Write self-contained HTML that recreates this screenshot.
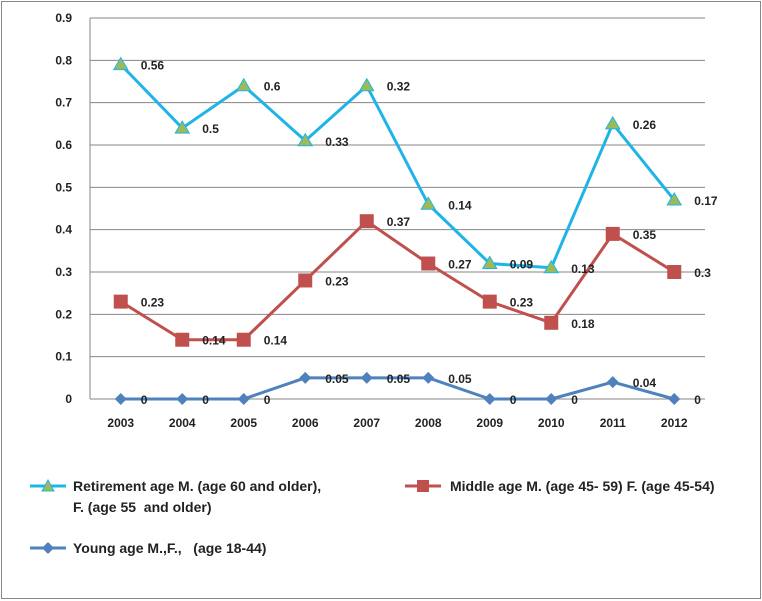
<!DOCTYPE html>
<html><head><meta charset="utf-8"><style>
body{margin:0;background:#fff;}
svg{display:block;font-family:"Liberation Sans",sans-serif;}
text{white-space:pre;}
</style></head><body>
<svg id="chart" width="762" height="601" viewBox="0 0 762 601">
<rect x="1.5" y="1.5" width="759" height="597" fill="#fff" stroke="#888" stroke-width="1"/>
<g id="grid"></g><g id="axes"></g><g id="series"></g>
<g font-size="14" font-weight="bold" fill="#222">
 <g>
  <line x1="30" y1="486" x2="66" y2="486" stroke="#1fb4e8" stroke-width="3"/>
  <polygon points="48,480 54,491 42,491" fill="#9bbb59" stroke="#1fb4e8" stroke-width="1"/>
  <text x="73" y="491">Retirement age M. (age 60 and older),</text>
  <text x="73" y="512">F. (age 55&#160; and older)</text>
 </g>
 <g>
  <line x1="405" y1="486" x2="441" y2="486" stroke="#c0504d" stroke-width="3"/>
  <rect x="417" y="480" width="12" height="12" fill="#c0504d"/>
  <text x="450" y="491">Middle age M. (age 45- 59) F. (age 45-54)</text>
 </g>
 <g>
  <line x1="30" y1="548" x2="66" y2="548" stroke="#4f81bd" stroke-width="3"/>
  <polygon points="48,542 54,548 48,554 42,548" fill="#4f81bd"/>
  <text x="73" y="553">Young age M.,F.,&#160;&#160; (age 18-44)</text>
 </g>
</g>
</svg>
<script>
const categories=["2003","2004","2005","2006","2007","2008","2009","2010","2011","2012"];
const retirementValues=[0.79,0.64,0.74,0.61,0.74,0.46,0.32,0.31,0.65,0.47];
const retirementLabels=["0.56","0.5","0.6","0.33","0.32","0.14","0.09","0.13","0.26","0.17"];
const middleValues=[0.23,0.14,0.14,0.28,0.42,0.32,0.23,0.18,0.39,0.30];
const middleLabels=["0.23","0.14","0.14","0.23","0.37","0.27","0.23","0.18","0.35","0.3"];
const youngValues=[0,0,0,0.05,0.05,0.05,0,0,0.04,0];
const youngLabels=["0","0","0","0.05","0.05","0.05","0","0","0.04","0"];
const yTicks=["0","0.1","0.2","0.3","0.4","0.5","0.6","0.7","0.8","0.9"];

const NS="http://www.w3.org/2000/svg";
const L=90,R=705,T=18,B=399,YMAX=0.9;
const xs=i=>L+(R-L)/categories.length*(i+0.5);
const ys=v=>B-(B-T)*v/YMAX;
function mk(tag,attrs,parent,txt){const e=document.createElementNS(NS,tag);for(const k in attrs)e.setAttribute(k,attrs[k]);if(txt!==undefined)e.textContent=txt;parent.appendChild(e);return e;}
const grid=document.getElementById('grid'),axes=document.getElementById('axes'),ser=document.getElementById('series');
yTicks.forEach(t=>{const y=ys(parseFloat(t));
 const g=mk('line',{x1:L,x2:R,y1:y,y2:y,stroke:'#868686','stroke-width':1},grid);
 
 
 const tx=mk('text',{x:L-18,y:y+4,'text-anchor':'end','font-size':12,'font-weight':'bold',fill:'#222'},axes,t);
 
 
});
const ax=mk('line',{x1:L,x2:L,y1:T,y2:B,stroke:'#868686'},axes);


categories.forEach((c,i)=>{
 const tx=mk('text',{x:xs(i),y:B+28,'text-anchor':'middle','font-size':12,'font-weight':'bold',fill:'#222'},axes,c);
 
 
});
function series(vals,labels,color,marker,name){
 const g=mk('g',{},ser);
 
 
 const pl=mk('polyline',{points:vals.map((v,i)=>xs(i)+','+ys(v)).join(' '),fill:'none',stroke:color,'stroke-width':3,'stroke-linejoin':'round'},g);
 
 
 vals.forEach((v,i)=>{const x=xs(i),y=ys(v);let m;
  if(marker==='tri')m=mk('polygon',{points:`${x},${y-7} ${x+7},${y+5} ${x-7},${y+5}`,fill:'#9bbb59',stroke:'#1fb4e8','stroke-width':1},g);
  else if(marker==='sq')m=mk('rect',{x:x-7,y:y-7,width:14,height:14,fill:'#c0504d'},g);
  else m=mk('polygon',{points:`${x},${y-6} ${x+6},${y} ${x},${y+6} ${x-6},${y}`,fill:'#4f81bd'},g);
  
  
  const t=mk('text',{x:x+20,y:y+5,'font-size':12,'font-weight':'bold',fill:'#222'},g,labels[i]);
  
  
 });
}
series(youngValues,youngLabels,'#4f81bd','dia','young');
series(middleValues,middleLabels,'#c0504d','sq','middle');
series(retirementValues,retirementLabels,'#1fb4e8','tri','retirement');
</script>
</body></html>
